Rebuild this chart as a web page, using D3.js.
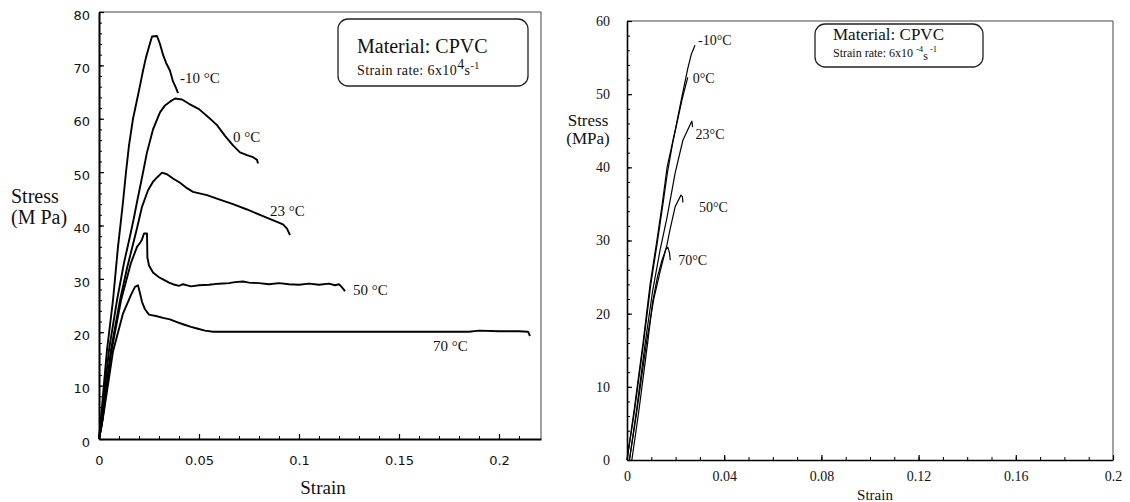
<!DOCTYPE html>
<html>
<head>
<meta charset="utf-8">
<script src="https://cdn.jsdelivr.net/npm/d3@7"></script>
<style>
	body { margin: 0; background: #fff; }
	svg { display: block; }
	.curve { fill: none; stroke: #000; stroke-linejoin: round; }
	.frame { fill: none; stroke: #444; stroke-width: 1; }
	.serif { font-family: 'Liberation Serif', 'Times New Roman', serif; fill: #111; }
	.axis path, .axis line { stroke: #000; }
</style>
</head>
<body>
<svg width="1130" height="502"></svg>
<script>
// ---- left panel: strain rate 6x10^4 /s ----
const leftTemps = ['-10', '0', '23', '50', '70'];
const leftStrainTicks = [0, 0.05, 0.1, 0.15, 0.2];
const leftStressTicks = [0, 10, 20, 30, 40, 50, 60, 70, 80];

const leftMinus10 = [[0,0],[0.001,4],[0.004,16.7],[0.007,26],[0.0095,36],[0.011,41],[0.012,44.4],[0.0135,50],[0.015,55],[0.017,60],[0.019,63.5],[0.0205,66.2],[0.022,69],[0.0235,71.5],[0.025,73.5],[0.0265,75.4],[0.029,75.5],[0.0305,74],[0.032,72],[0.0335,70.5],[0.0355,69],[0.037,67],[0.0385,65.8],[0.0395,64.8]];
const left0 = [[0,0],[0.001,3],[0.005,16.7],[0.009,26],[0.0125,33],[0.0155,38],[0.0175,41.5],[0.019,44.4],[0.0215,49],[0.024,53.7],[0.027,58],[0.0305,61.2],[0.033,62.5],[0.0355,63.2],[0.038,63.8],[0.0415,63.6],[0.045,62.8],[0.05,61.8],[0.055,60.2],[0.059,58.8],[0.063,56.8],[0.067,55],[0.0705,53.7],[0.074,53.2],[0.077,52.8],[0.079,52.3],[0.0795,51.6]];
const left23 = [[0,0],[0.0015,3],[0.006,16.7],[0.0105,26],[0.014,32],[0.017,36.5],[0.019,39.5],[0.0215,43.5],[0.0245,46.6],[0.027,48.2],[0.029,49],[0.0315,49.9],[0.034,49.6],[0.037,48.8],[0.0405,48],[0.044,47],[0.047,46.3],[0.054,45.7],[0.06,44.9],[0.067,44],[0.074,43],[0.0805,42],[0.085,41.3],[0.089,40.7],[0.092,40.2],[0.094,39.4],[0.0955,38.2]];
const left50 = [[0,0],[0.0015,3],[0.006,16],[0.011,26],[0.016,33],[0.019,36],[0.021,37],[0.0215,37.4],[0.0225,38.5],[0.024,38.5],[0.0242,34],[0.025,32.5],[0.027,31.2],[0.03,30.3],[0.032,29.9],[0.035,29.3],[0.037,29],[0.04,28.7],[0.042,29],[0.046,28.6],[0.05,28.8],[0.055,28.9],[0.06,29.1],[0.065,29.2],[0.068,29.4],[0.072,29.5],[0.075,29.3],[0.08,29.2],[0.085,29],[0.09,29.2],[0.095,29],[0.1,28.9],[0.105,29.1],[0.11,28.9],[0.115,29.1],[0.118,28.8],[0.12,29],[0.1215,28.4],[0.123,27.7]];
const left70 = [[0,0],[0.002,4],[0.007,16.4],[0.012,23.5],[0.016,27],[0.018,28.5],[0.0195,28.8],[0.0205,27.3],[0.0215,25.7],[0.023,24.3],[0.025,23.3],[0.029,23],[0.032,22.7],[0.0355,22.4],[0.039,21.9],[0.042,21.5],[0.046,21],[0.049,20.7],[0.053,20.3],[0.057,20.1],[0.08,20.1],[0.1,20.1],[0.13,20.1],[0.16,20.1],[0.185,20.1],[0.19,20.3],[0.2,20.2],[0.21,20.2],[0.2145,20.1],[0.2155,19.3]];

// ---- right panel: strain rate 6x10^-4 /s ----
const rightTemps = ['-10', '0', '23', '50', '70'];
const rightStrainTicks = [0, 0.04, 0.08, 0.12, 0.16, 0.2];
const rightStressTicks = [0, 10, 20, 30, 40, 50, 60];

const rightMinus10 = [[0,0],[0.003,7],[0.0066,16],[0.0095,24],[0.0123,30],[0.0145,35],[0.0165,40],[0.0198,45],[0.0225,49.5],[0.025,53.5],[0.0265,55.5],[0.028,56.7]];
const right0 = [[0,0],[0.003,6.5],[0.0068,16],[0.0098,24],[0.0126,30],[0.0148,35],[0.0166,39.2],[0.019,43.7],[0.0226,49.2],[0.025,52.3]];
const right23 = [[0.001,0],[0.004,7],[0.0075,16],[0.0105,23],[0.0135,28.5],[0.0165,33.2],[0.0198,39.2],[0.023,43.7],[0.0262,46],[0.0267,46.3],[0.027,45.5]];
const right50 = [[0.001,0],[0.004,6.5],[0.008,16],[0.011,22],[0.0138,26],[0.0165,29.5],[0.0177,31.5],[0.0198,34.6],[0.0222,36.2],[0.0228,36],[0.023,35.2]];
const right70 = [[0.002,0],[0.005,7],[0.0085,16],[0.0105,21.5],[0.0125,25],[0.0144,27.3],[0.016,28.8],[0.0168,29.1],[0.0175,28.3],[0.0178,27.3]];

const svg = d3.select('svg');

function Panel(cfg) {
	this.cfg = cfg;
	this.g = svg.append('g');
	this.x = d3.scaleLinear().domain(cfg.xDomain).range(cfg.xRange);
	this.y = d3.scaleLinear().domain(cfg.yDomain).range(cfg.yRange);
}

Panel.prototype.drawFrame = function () {
	const [x0, x1] = this.cfg.xRange;
	const [y0, y1] = this.cfg.yRange;
	this.g.append('path')
		.attr('class', 'frame')
		.attr('d', `M ${x0} ${y1} L ${x1} ${y1} L ${x1} ${y0}`);
};

Panel.prototype.drawAxes = function () {
	const c = this.cfg;
	const y0 = c.yRange[0];
	const x0 = c.xRange[0];

	// minor ticks first
	this.g.append('g')
		.attr('class', 'axis')
		.attr('transform', `translate(0 ${y0})`)
		.call(d3.axisBottom(this.x).tickValues(c.xMinor).tickSize(-3).tickSizeOuter(0).tickFormat(''))
		.select('.domain').remove();
	this.g.append('g')
		.attr('class', 'axis')
		.attr('transform', `translate(${x0} 0)`)
		.call(d3.axisLeft(this.y).tickValues(c.yMinor).tickSize(-3).tickSizeOuter(0).tickFormat(''))
		.select('.domain').remove();

	const xa = this.g.append('g')
		.attr('class', 'axis')
		.attr('transform', `translate(0 ${y0})`)
		.call(d3.axisBottom(this.x).tickValues(c.xTicks).tickSize(-5).tickSizeOuter(0).tickPadding(c.xPad).tickFormat(c.xFormat));
	const ya = this.g.append('g')
		.attr('class', 'axis')
		.attr('transform', `translate(${x0} 0)`)
		.call(d3.axisLeft(this.y).tickValues(c.yTicks).tickSize(-5).tickSizeOuter(0).tickPadding(c.yPad));

	[xa, ya].forEach((a) => {
		a.select('.domain').attr('stroke-width', c.axisWidth);
		a.selectAll('.tick line').attr('stroke-width', 1.2);
		a.selectAll('text')
			.attr('fill', '#111')
			.style('font-family', c.tickFont)
			.style('font-size', c.tickSize + 'px');
	});
	ya.selectAll('text').attr('y', c.yLabelShift);
};

Panel.prototype.drawCurves = function (curves, temps, offsets, suffix) {
	const line = d3.line().x((d) => this.x(d[0])).y((d) => this.y(d[1]));
	this.g.selectAll('.curve')
		.data(curves)
		.enter()
		.append('path')
		.attr('class', 'curve')
		.attr('stroke-width', this.cfg.curveWidth)
		.attr('d', line);

	this.g.selectAll('.temp')
		.data(curves)
		.enter()
		.append('text')
		.attr('class', 'serif temp')
		.attr('x', (d, i) => this.x(d[d.length - 1][0]) + offsets[i][0])
		.attr('y', (d, i) => this.y(d[d.length - 1][1]) + offsets[i][1])
		.style('font-size', this.cfg.tempSize + 'px')
		.text((d, i) => temps[i] + suffix);
};

Panel.prototype.drawTitles = function (xt, yt) {
	this.g.append('text')
		.attr('class', 'serif')
		.attr('x', xt.x).attr('y', xt.y)
		.attr('text-anchor', 'middle')
		.style('font-size', xt.size + 'px')
		.text('Strain');
	const t = this.g.append('text')
		.attr('class', 'serif')
		.attr('text-anchor', yt.anchor)
		.style('font-size', yt.size + 'px');
	t.append('tspan').attr('x', yt.x).attr('y', yt.y).text('Stress');
	t.append('tspan').attr('x', yt.x).attr('y', yt.y + yt.gap).text(yt.unit);
};

Panel.prototype.drawLegend = function (box, rate) {
	this.g.append('rect')
		.attr('x', box.x).attr('y', box.y)
		.attr('width', box.w).attr('height', box.h)
		.attr('rx', 10)
		.attr('fill', '#fff')
		.attr('stroke', '#222')
		.attr('stroke-width', 1.3);
	this.g.append('text')
		.attr('class', 'serif')
		.attr('x', box.tx).attr('y', box.t1)
		.style('font-size', box.s1 + 'px')
		.text('Material: CPVC');
	const t = this.g.append('text')
		.attr('class', 'serif')
		.attr('x', box.tx).attr('y', box.t2)
		.style('font-size', box.s2 + 'px')
		.style('letter-spacing', box.ls + 'px');
	rate.forEach(([txt, dy, small]) => {
		t.append('tspan')
			.attr('dy', dy)
			.style('font-size', small ? (box.s2 * 0.72) + 'px' : null)
			.text(txt);
	});
};

const minor = (a, b, step) => d3.range(Math.round((b - a) / step) + 1).map((i) => a + i * step);

const left = new Panel({
	xDomain: [0, 0.221], xRange: [99, 541],
	yDomain: [0, 80], yRange: [439, 12],
	xTicks: leftStrainTicks, yTicks: leftStressTicks,
	xMinor: minor(0, 0.21, 0.01), yMinor: minor(0, 80, 2),
	xFormat: d3.format('~g'), xPad: 17, yPad: 9, yLabelShift: 3,
	tickFont: "'DejaVu Sans', Verdana, sans-serif", tickSize: 13,
	axisWidth: 2, curveWidth: 1.9, tempSize: 15
});
left.drawFrame();
left.drawAxes();
left.drawCurves([leftMinus10, left0, left23, left50, left70], leftTemps,
	[[2, -10], [-25, -22], [-20, -19], [8, 4], [-97, 15]], ' °C');
left.drawTitles({ x: 323, y: 494, size: 19 }, { x: 11, y: 203, gap: 21, size: 20, anchor: 'start', unit: '(M Pa)' });
left.drawLegend({ x: 338, y: 19, w: 190, h: 67, tx: 357, t1: 53, t2: 75, s1: 20, s2: 14, ls: 0.4 },
	[['Strain rate: 6x10', 0, false], ['4', -6, false], ['s', 6, false], ['-1', -6, true]]);

const right = new Panel({
	xDomain: [0, 0.2], xRange: [627, 1113],
	yDomain: [0, 60], yRange: [460, 21],
	xTicks: rightStrainTicks, yTicks: rightStressTicks,
	xMinor: minor(0, 0.2, 0.01), yMinor: minor(0, 60, 2),
	xFormat: d3.format('~g'), xPad: 11, yPad: 17, yLabelShift: 0,
	tickFont: "'Liberation Serif', 'Times New Roman', serif", tickSize: 14,
	axisWidth: 1.6, curveWidth: 1.2, tempSize: 14
});
right.drawFrame();
right.drawAxes();
right.drawCurves([rightMinus10, right0, right23, right50, right70], rightTemps,
	[[3, 0], [5, 6], [3, 12], [16, 10], [8, 5]], '°C');
right.drawTitles({ x: 875, y: 500, size: 15 }, { x: 588, y: 126, gap: 18, size: 17, anchor: 'middle', unit: '(MPa)' });
right.drawLegend({ x: 815, y: 24, w: 168, h: 43, tx: 833, t1: 40, t2: 57, s1: 17, s2: 12, ls: 0 },
	[['Strain rate: 6x10 ', 0, false], ['-4', -5, true], ['s', 8, false], [' -1', -8, true]]);
</script>
</body>
</html>
